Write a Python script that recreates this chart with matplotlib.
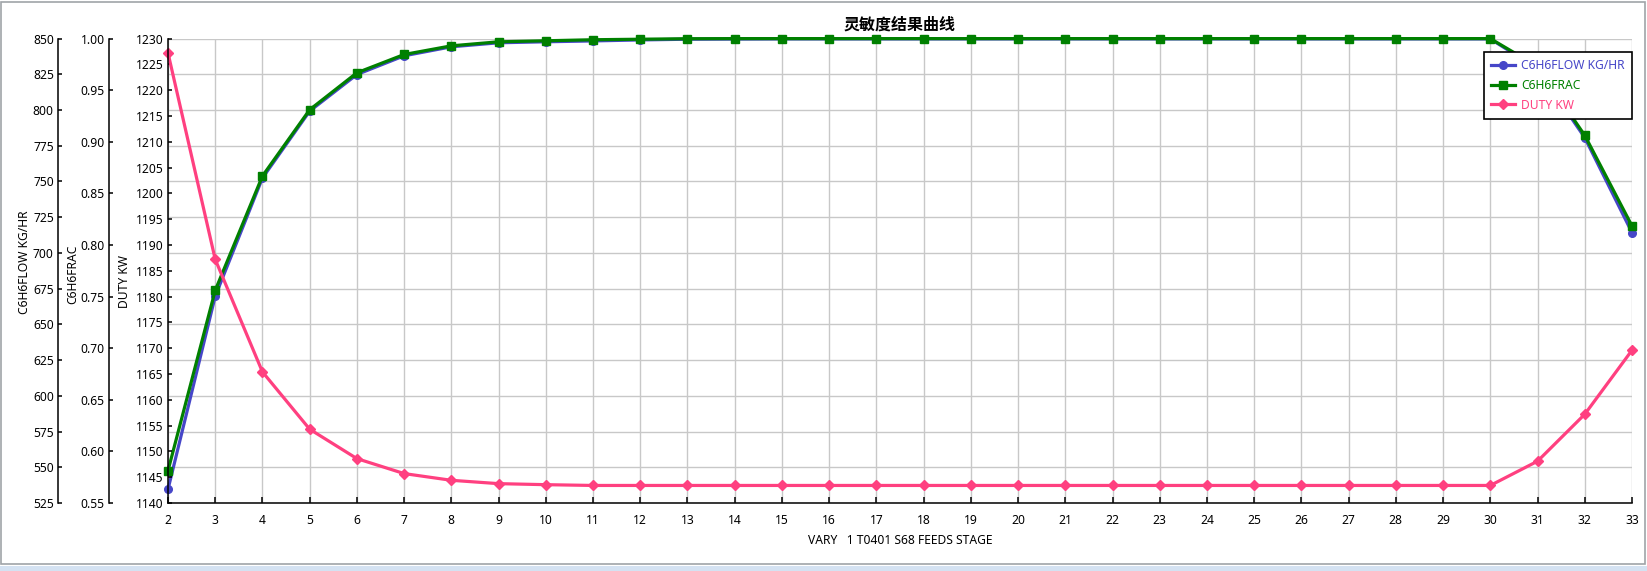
import numpy as np
import matplotlib
matplotlib.use('Agg')
import matplotlib.pyplot as plt
from matplotlib.patches import Rectangle

plt.rcParams['font.family'] = ['Noto Sans', 'Noto Sans CJK SC', 'DejaVu Sans']
plt.rcParams['font.size'] = 8.7

# 数据
stage = list(range(2, 34))
c6h6_flow = [534.6, 669.7, 752.4, 799.2, 824.8, 837.9, 844.2, 847.0, 847.7, 848.3,
             849.0, 849.5, 849.6, 849.7, 849.7, 849.7, 849.7, 849.7, 849.7, 849.7,
             849.7, 849.7, 849.7, 849.7, 849.7, 849.7, 849.7, 849.7, 849.7, 829.0,
             780.6, 714.2]
c6h6_frac = [0.5813, 0.756, 0.8668, 0.931, 0.9668, 0.9845, 0.9929, 0.9968, 0.9978, 0.9988,
             0.9993, 0.9998, 0.9999, 0.9999, 0.9999, 0.9999, 0.9999, 0.9999, 0.9999, 0.9999,
             0.9999, 0.9999, 0.9999, 0.9999, 0.9999, 0.9999, 0.9999, 0.9999, 0.9999, 0.9729,
             0.9061, 0.8184]
duty_kw = [1227.2, 1187.2, 1165.4, 1154.3, 1148.6, 1145.7, 1144.4, 1143.75, 1143.55, 1143.4,
           1143.4, 1143.4, 1143.4, 1143.4, 1143.4, 1143.4, 1143.4, 1143.4, 1143.4, 1143.4,
           1143.4, 1143.4, 1143.4, 1143.4, 1143.4, 1143.4, 1143.4, 1143.4, 1143.4, 1148.1,
           1157.2, 1169.6]

W, H = 1647, 571
fig = plt.figure(figsize=(W / 100, H / 100), dpi=100)
fig.patch.set_facecolor('white')

# 窗口边框
fig.patches.append(Rectangle((1 / W, 1 - 563.5 / H), 1644 / W, 562 / H, transform=fig.transFigure,
                             fill=False, edgecolor='#a0a4a8', linewidth=1.2))
fig.patches.append(Rectangle((0, 0), 1, 5 / H, transform=fig.transFigure,
                             facecolor='#d4e2f2', edgecolor='none'))

left, right, top, bottom = 168, 1632, 38.5, 503
ax_flow = fig.add_axes([left / W, 1 - bottom / H, (right - left) / W, (bottom - top) / H])
ax_frac = ax_flow.twinx()
ax_duty = ax_flow.twinx()

blue, green, pink = '#4646c8', '#008000', '#ff4080'

l1, = ax_flow.plot(stage, c6h6_flow, color=blue, lw=2.3, marker='o', ms=5.5, clip_on=False,
                   label='C6H6FLOW KG/HR')
l2, = ax_frac.plot(stage, c6h6_frac, color=green, lw=2.3, marker='s', ms=5.5, clip_on=False,
                   label='C6H6FRAC')
l3, = ax_duty.plot(stage, duty_kw, color=pink, lw=2.3, marker='D', ms=5, clip_on=False,
                   label='DUTY KW')

ax_flow.set_xlim(2, 33)
ax_flow.set_xticks(stage)
ax_flow.set_ylim(525, 850)
ax_flow.set_yticks(np.arange(525, 851, 25))
ax_frac.set_ylim(0.55, 1.00)
ax_frac.set_yticks(np.arange(0.55, 1.001, 0.05))
ax_frac.set_yticklabels(['%.2f' % v for v in np.arange(0.55, 1.001, 0.05)])
ax_duty.set_ylim(1140, 1230)
ax_duty.set_yticks(np.arange(1140, 1231, 5))

ax_flow.grid(True, color='#c8c8c8', lw=1)
ax_flow.set_axisbelow(True)

offsets = {ax_flow: -110, ax_frac: -59, ax_duty: 0}
for ax, off in offsets.items():
    ax.patch.set_visible(ax is ax_flow)
    for s in ['top', 'right', 'bottom']:
        ax.spines[s].set_visible(False)
    ax.spines['left'].set_visible(True)
    ax.spines['left'].set_position(('axes', off / (right - left)))
    ax.spines['left'].set_linewidth(1.1)
    ax.yaxis.set_ticks_position('left')
    ax.tick_params(axis='y', direction='in', length=3, width=1.1, pad=3, left=True, right=False,
                   labelleft=True, labelright=False)

ax_flow.spines['bottom'].set_visible(True)
ax_flow.spines['bottom'].set_linewidth(1.1)
ax_flow.tick_params(axis='x', direction='in', length=4, width=1.1, pad=8)

# 轴标签
fig.text(25 / W, 1 - 262 / H, 'C6H6FLOW KG/HR', rotation=90, ha='center', va='center')
fig.text(73 / W, 1 - 274 / H, 'C6H6FRAC', rotation=90, ha='center', va='center')
fig.text(125 / W, 1 - 281 / H, 'DUTY KW', rotation=90, ha='center', va='center')
fig.text(900 / W, 1 - 541 / H, 'VARY   1 T0401 S68 FEEDS STAGE', ha='center', va='center')
fig.text(900 / W, 1 - 25 / H, '灵敏度结果曲线', ha='center', va='center', fontsize=11.5,
         fontweight='bold', family=['Noto Sans CJK SC', 'DejaVu Sans'])

leg = ax_duty.legend(handles=[l1, l2, l3], loc='upper right',
                     bbox_to_anchor=(right / W, 1 - 52 / H), bbox_transform=fig.transFigure,
                     borderaxespad=0, fancybox=False, framealpha=1, edgecolor='black',
                     handlelength=2.0, labelspacing=0.55, borderpad=0.6, handletextpad=0.5)
leg.get_frame().set_linewidth(1.2)
for txt, c in zip(leg.get_texts(), [blue, green, pink]):
    txt.set_color(c)

fig.savefig('out.png', dpi=100)
